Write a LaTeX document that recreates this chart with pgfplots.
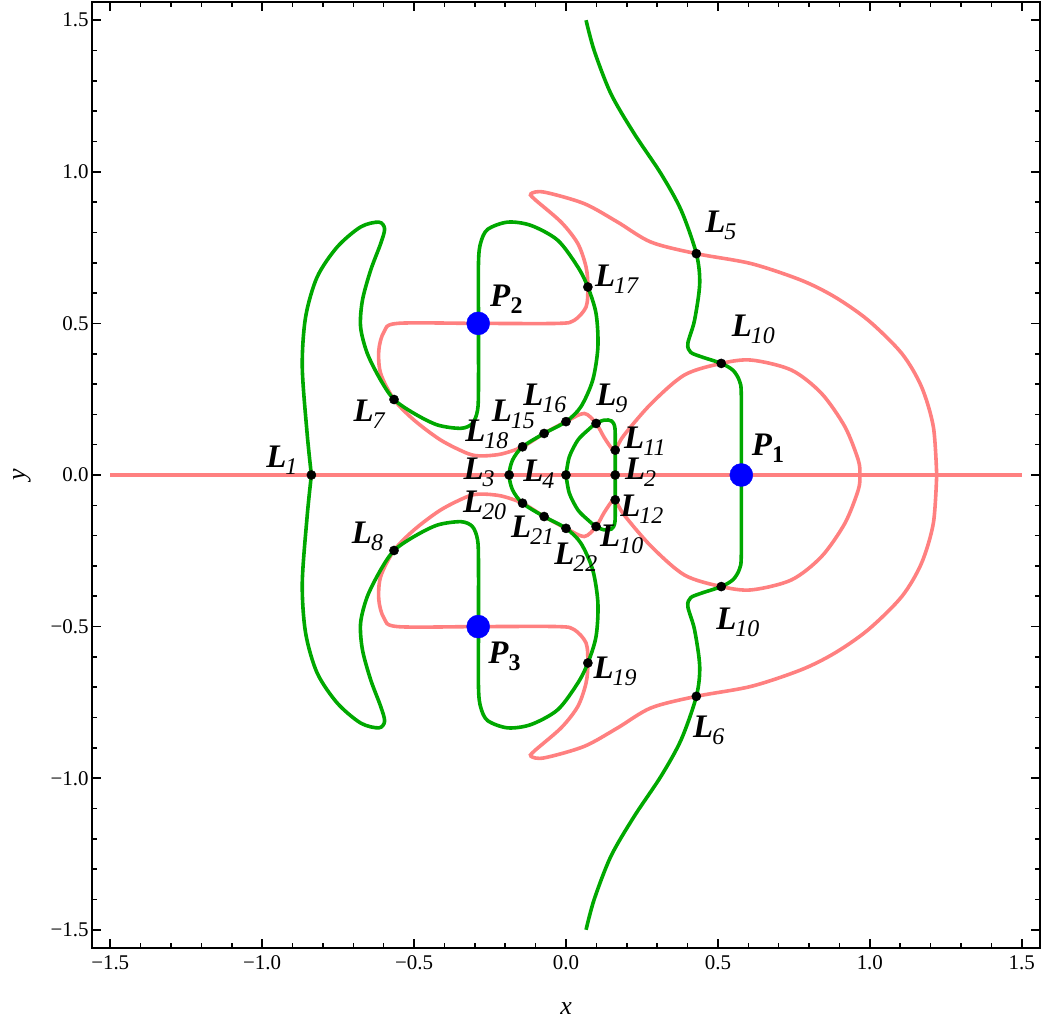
\documentclass[border=0pt]{standalone}
\usepackage{fontspec}
\setmainfont{Liberation Serif}
\usepackage{pgfplots}
\pgfplotsset{compat=1.18}
\definecolor{cgreen}{rgb}{0,0.66,0}
\definecolor{cpink}{rgb}{1,0.5,0.5}
\newcommand{\Lb}[1]{\textbf{\textit{L}}\kern-1bp\raisebox{-7bp}{\fontsize{24}{24}\selectfont\textit{#1}}}
\newcommand{\Pb}[1]{\textbf{\textit{P}}\raisebox{-7bp}{\fontsize{24}{24}\selectfont\textbf{#1}}}
\tikzset{lab/.style={anchor=base west, inner sep=0pt, font=\fontsize{33}{36}\selectfont}}
\begin{document}
\begin{tikzpicture}
\begin{axis}[
  scale only axis, width=948bp, height=946bp,
  xmin=-1.56, xmax=1.56, ymin=-1.56, ymax=1.56,
  axis line style={line width=1.8bp},
  xtick={-1.5,-1,-0.5,0,0.5,1,1.5},
  ytick={-1.5,-1,-0.5,0,0.5,1,1.5},
  xticklabels={−1.5,−1.0,−0.5,0.0,0.5,1.0,1.5},
  yticklabels={−1.5,−1.0,−0.5,0.0,0.5,1.0,1.5},
  minor tick num=4,
  tick align=inside,
  major tick length=9bp, minor tick length=5bp,
  every tick/.style={black, line width=1.6bp},
  ticklabel style={font=\fontsize{21}{22}\selectfont},
  xticklabel style={yshift=-4bp},
  xlabel={\textit{x}}, ylabel={\textit{y}},
  label style={font=\fontsize{26}{28}\selectfont},
  xlabel style={at={(axis description cs:0.5,0)}, anchor=center, yshift=-61bp},
  ylabel style={at={(axis description cs:0,0.5)}, anchor=center, yshift=70bp},
]
% red curves
\addplot[cpink, line width=3.6bp] coordinates {(-1.5,0) (1.5,0)};
\addplot[cpink, line width=3.6bp, smooth, tension=0.5] coordinates {
(1.220,0) (1.209,0.159) (1.170,0.291) (1.105,0.401) (0.995,0.510) (0.885,0.587) (0.775,0.642) (0.610,0.697) (0.429,0.730) (0.280,0.768) (0.170,0.834) (0.060,0.895) (-0.072,0.933) (-0.115,0.928) (-0.105,0.911) (-0.016,0.834) (0.039,0.763) (0.066,0.686) (0.072,0.620) (0.066,0.554) (0.027,0.510) (-0.027,0.500) (-0.289,0.5) (-0.555,0.500) (-0.599,0.472) (-0.616,0.412) (-0.610,0.335) (-0.566,0.249) (-0.500,0.181) (-0.412,0.115) (-0.324,0.071) (-0.280,0.063) (-0.214,0.069) (-0.143,0.093) (-0.072,0.137) (0.000,0.176) (0.060,0.203) (0.099,0.170) (0.125,0.125) (0.150,0.088) (0.162,0.082) (0.190,0.130) (0.280,0.235) (0.390,0.330) (0.511,0.368) (0.610,0.379) (0.742,0.346) (0.841,0.269) (0.918,0.159) (0.962,0.049) (0.967,0)
(0.962,-0.049) (0.918,-0.159) (0.841,-0.269) (0.742,-0.346) (0.610,-0.379) (0.511,-0.368) (0.390,-0.330) (0.280,-0.235) (0.190,-0.130) (0.162,-0.082) (0.150,-0.088) (0.125,-0.125) (0.099,-0.170) (0.060,-0.203) (0.000,-0.176) (-0.072,-0.137) (-0.143,-0.093) (-0.214,-0.069) (-0.280,-0.063) (-0.324,-0.071) (-0.412,-0.115) (-0.500,-0.181) (-0.566,-0.249) (-0.610,-0.335) (-0.616,-0.412) (-0.599,-0.472) (-0.555,-0.500) (-0.289,-0.5) (-0.027,-0.500) (0.027,-0.510) (0.066,-0.554) (0.072,-0.620) (0.066,-0.686) (0.039,-0.763) (-0.016,-0.834) (-0.105,-0.911) (-0.115,-0.928) (-0.072,-0.933) (0.060,-0.895) (0.170,-0.834) (0.280,-0.768) (0.429,-0.730) (0.610,-0.697) (0.775,-0.642) (0.885,-0.587) (0.995,-0.510) (1.105,-0.401) (1.170,-0.291) (1.209,-0.159) (1.220,0)};
% green curves
\addplot[cgreen, line width=3.6bp, smooth, tension=0.5] coordinates {
(-0.838,0) (-0.852,0.137) (-0.868,0.357) (-0.857,0.521) (-0.819,0.653) (-0.753,0.752) (-0.676,0.818) (-0.616,0.834) (-0.597,0.812) (-0.610,0.763) (-0.643,0.675) (-0.670,0.576) (-0.676,0.488) (-0.654,0.401) (-0.610,0.313) (-0.566,0.249) (-0.500,0.203) (-0.423,0.165) (-0.346,0.154) (-0.308,0.170) (-0.291,0.214) (-0.288,0.291) (-0.288,0.5) (-0.288,0.700) (-0.281,0.765) (-0.258,0.810) (-0.192,0.834) (-0.115,0.823) (-0.027,0.774) (0.039,0.686) (0.072,0.620) (0.099,0.532) (0.105,0.422) (0.088,0.313) (0.049,0.225) (0.000,0.176) (-0.072,0.137) (-0.143,0.093) (-0.176,0.049) (-0.187,0)
(-0.176,-0.049) (-0.143,-0.093) (-0.072,-0.137) (0.000,-0.176) (0.049,-0.225) (0.088,-0.313) (0.105,-0.422) (0.099,-0.532) (0.072,-0.620) (0.039,-0.686) (-0.027,-0.774) (-0.115,-0.823) (-0.192,-0.834) (-0.258,-0.810) (-0.281,-0.765) (-0.288,-0.700) (-0.288,-0.5) (-0.288,-0.291) (-0.291,-0.214) (-0.308,-0.170) (-0.346,-0.154) (-0.423,-0.165) (-0.500,-0.203) (-0.566,-0.249) (-0.610,-0.313) (-0.654,-0.401) (-0.676,-0.488) (-0.670,-0.576) (-0.643,-0.675) (-0.610,-0.763) (-0.597,-0.812) (-0.616,-0.834) (-0.676,-0.818) (-0.753,-0.752) (-0.819,-0.653) (-0.857,-0.521) (-0.868,-0.357) (-0.852,-0.137) (-0.838,0)};
\addplot[cgreen, line width=3.6bp, smooth, tension=0.5] coordinates {
(0.066,1.5) (0.093,1.399) (0.148,1.257) (0.225,1.125) (0.313,0.993) (0.379,0.873) (0.429,0.730) (0.440,0.631) (0.423,0.510) (0.401,0.434) (0.410,0.405) (0.445,0.390) (0.511,0.368) (0.550,0.345) (0.571,0.310) (0.577,0.26) (0.577,0) (0.577,-0.26) (0.571,-0.310) (0.550,-0.345) (0.511,-0.368) (0.445,-0.390) (0.410,-0.405) (0.401,-0.434) (0.423,-0.510) (0.440,-0.631) (0.429,-0.730) (0.379,-0.873) (0.313,-0.993) (0.225,-1.125) (0.148,-1.257) (0.093,-1.399) (0.066,-1.5)};
\addplot[cgreen, line width=3.6bp, smooth, tension=0.5] coordinates {
(0,0) (0.011,0.060) (0.039,0.115) (0.072,0.148) (0.099,0.170) (0.126,0.181) (0.150,0.178) (0.161,0.155) (0.162,0.082) (0.162,0) (0.162,-0.082) (0.161,-0.155) (0.150,-0.178) (0.126,-0.181) (0.099,-0.170) (0.072,-0.148) (0.039,-0.115) (0.011,-0.060) (0,0)};
% libration points
\addplot[only marks, mark=*, mark size=4.6bp, black] coordinates {
(-0.838,0) (0.162,0) (-0.187,0) (0,0) (0.429,0.730) (0.429,-0.730) (-0.566,0.249) (-0.566,-0.249) (0.099,0.170) (0.099,-0.170) (0.511,0.368) (0.511,-0.368) (0.162,0.082) (0.162,-0.082) (-0.072,0.137) (0,0.176) (0.072,0.620) (-0.143,0.093) (0.072,-0.620) (-0.143,-0.093) (-0.072,-0.137) (0,-0.176)};
\addplot[only marks, mark=*, mark size=11.5bp, blue] coordinates {(0.577,0) (-0.289,0.5) (-0.289,-0.5)};
% labels
\node[lab] at (axis cs:-0.987,0.026) {\Lb{1}};
\node[lab] at (axis cs:0.194,-0.016) {\Lb{2}};
\node[lab] at (axis cs:-0.338,-0.016) {\Lb{3}};
\node[lab] at (axis cs:-0.141,-0.022) {\Lb{4}};
\node[lab] at (axis cs:0.458,0.799) {\Lb{5}};
\node[lab] at (axis cs:0.418,-0.867) {\Lb{6}};
\node[lab] at (axis cs:-0.700,0.176) {\Lb{7}};
\node[lab] at (axis cs:-0.705,-0.225) {\Lb{8}};
\node[lab] at (axis cs:0.099,0.229) {\Lb{9}};
\node[lab] at (axis cs:0.112,-0.236) {\Lb{10}};
\node[lab] at (axis cs:0.545,0.456) {\Lb{10}};
\node[lab] at (axis cs:0.494,-0.511) {\Lb{10}};
\node[lab] at (axis cs:0.191,0.086) {\Lb{11}};
\node[lab] at (axis cs:0.178,-0.138) {\Lb{12}};
\node[lab] at (axis cs:-0.245,0.176) {\Lb{15}};
\node[lab] at (axis cs:-0.141,0.228) {\Lb{16}};
\node[lab] at (axis cs:0.095,0.621) {\Lb{17}};
\node[lab] at (axis cs:-0.332,0.110) {\Lb{18}};
\node[lab] at (axis cs:0.090,-0.670) {\Lb{19}};
\node[lab] at (axis cs:-0.339,-0.123) {\Lb{20}};
\node[lab] at (axis cs:-0.181,-0.206) {\Lb{21}};
\node[lab] at (axis cs:-0.039,-0.294) {\Lb{22}};
\node[lab] at (axis cs:0.611,0.063) {\Pb{1}};
\node[lab] at (axis cs:-0.250,0.555) {\Pb{2}};
\node[lab] at (axis cs:-0.256,-0.621) {\Pb{3}};
\end{axis}
\pgfresetboundingbox
\path ([shift={(-92bp,-77bp)}]current axis.south west) rectangle ([shift={(2bp,2bp)}]current axis.north east);
\end{tikzpicture}
\end{document}
